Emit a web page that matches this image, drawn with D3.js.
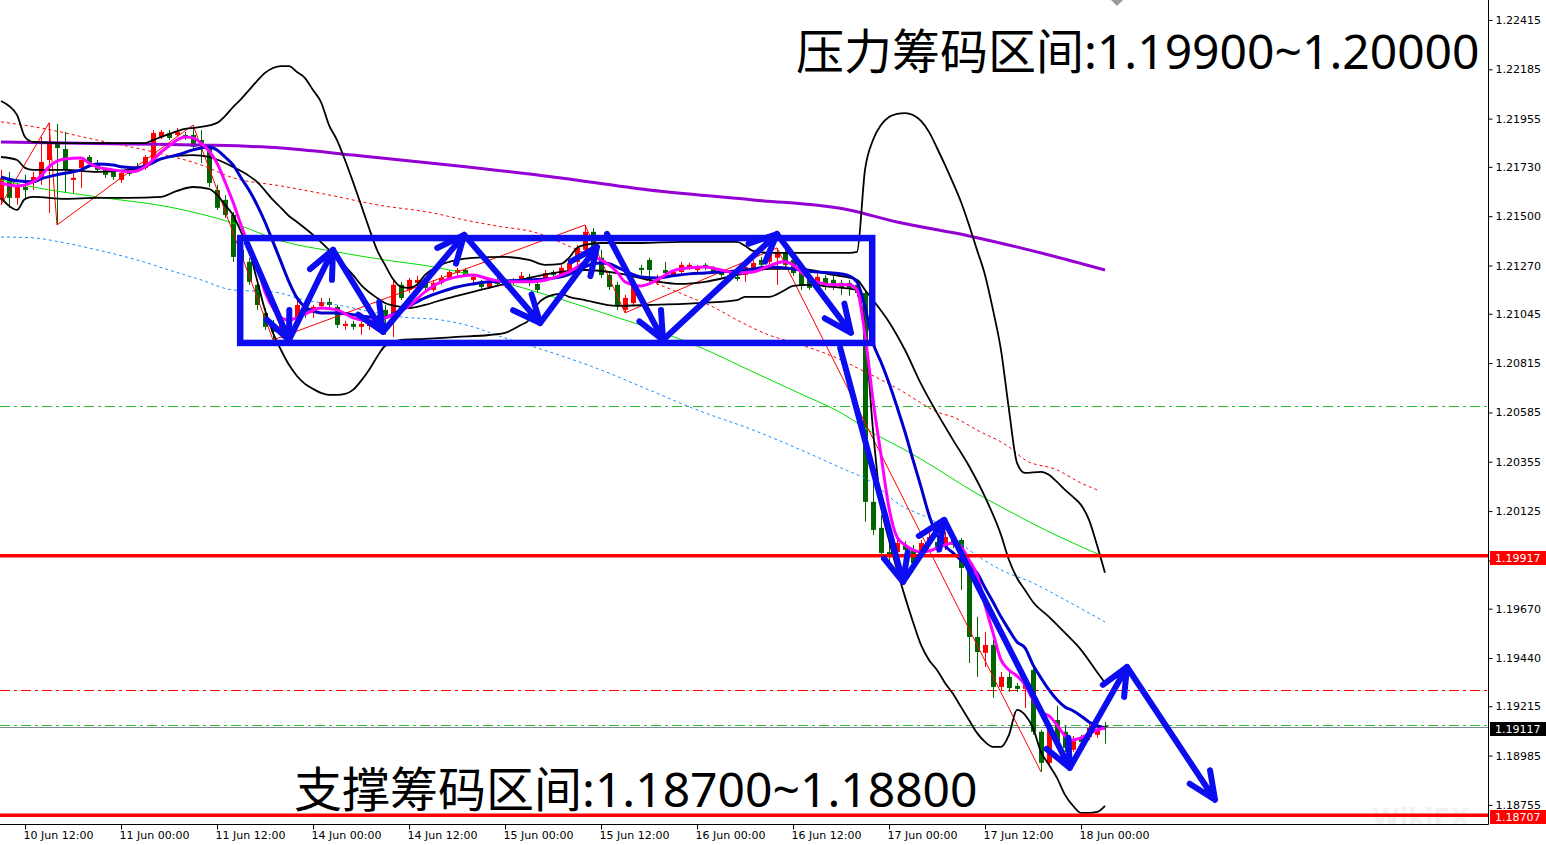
<!DOCTYPE html>
<html>
<head>
<meta charset="utf-8">
<script src="https://cdn.jsdelivr.net/npm/d3@7"></script>
<style>
  html, body { margin: 0; padding: 0; background: #fff; }
  svg { display: block; }
</style>
</head>
<body>
<svg id="chart" width="1546" height="845"></svg>
<script>
// ---- candles (H1), bar 0 = 10 Jun 09:00 ----
const opens = [1.21576,1.21669,1.21585,1.21636,1.21655,1.21679,1.21762,1.21841,1.21813,1.21669,1.21725,1.21776,1.21748,1.21716,1.21707,1.21669,1.21716,1.21734,1.21725,1.21762,1.21869,1.21888,1.21879,1.21879,1.21879,1.21855,1.21823,1.21622,1.21576,1.21506,1.21343,1.21287,1.21180,1.21049,1.20993,1.20970,1.21007,1.21016,1.21086,1.21049,1.21081,1.21100,1.21077,1.20988,1.20998,1.20984,1.20988,1.21007,1.21063,1.21026,1.21180,1.21156,1.21189,1.21198,1.21156,1.21189,1.21212,1.21235,1.21249,1.21203,1.21194,1.21170,1.21203,1.21175,1.21189,1.21198,1.21217,1.21184,1.21203,1.21240,1.21226,1.21249,1.21287,1.21343,1.21427,1.21306,1.21226,1.21180,1.21063,1.21095,1.21259,1.21296,1.21189,1.21249,1.21226,1.21240,1.21259,1.21249,1.21273,1.21259,1.21240,1.21226,1.21217,1.21226,1.21259,1.21296,1.21287,1.21306,1.21329,1.21296,1.21259,1.21212,1.21170,1.21212,1.21203,1.21189,1.21189,1.21180,1.21142,1.20168,1.20047,1.19934,1.19934,1.19967,1.19944,1.19930,1.19976,1.19981,1.19958,1.19990,1.19990,1.19860,1.19538,1.19464,1.19501,1.19305,1.19352,1.19310,1.19296,1.19384,1.19096,1.18951,1.19151,1.19096,1.19012,1.19068,1.19072,1.19082,1.19124];
const highs = [1.21716,1.21707,1.21655,1.21693,1.21707,1.21869,1.21935,1.21930,1.21893,1.21716,1.21762,1.21785,1.21762,1.21725,1.21716,1.21716,1.21725,1.21748,1.21785,1.21902,1.21902,1.21902,1.21911,1.21893,1.21925,1.21902,1.21832,1.21646,1.21599,1.21520,1.21366,1.21306,1.21203,1.21072,1.21016,1.21026,1.21053,1.21109,1.21095,1.21086,1.21119,1.21119,1.21086,1.21012,1.21012,1.21016,1.21012,1.21040,1.21086,1.21203,1.21194,1.21212,1.21222,1.21212,1.21203,1.21226,1.21249,1.21259,1.21259,1.21231,1.21203,1.21203,1.21212,1.21203,1.21212,1.21240,1.21231,1.21198,1.21249,1.21249,1.21273,1.21296,1.21366,1.21459,1.21445,1.21343,1.21240,1.21194,1.21133,1.21194,1.21273,1.21306,1.21226,1.21287,1.21249,1.21287,1.21282,1.21273,1.21282,1.21268,1.21249,1.21235,1.21231,1.21277,1.21296,1.21310,1.21343,1.21352,1.21343,1.21310,1.21273,1.21226,1.21231,1.21226,1.21222,1.21203,1.21203,1.21203,1.21156,1.20280,1.20107,1.19967,1.19990,1.19985,1.19967,1.19990,1.20023,1.19999,1.20028,1.20009,1.19999,1.19874,1.19632,1.19562,1.19524,1.19375,1.19375,1.19324,1.19347,1.19408,1.19105,1.19142,1.19217,1.19124,1.19077,1.19082,1.19133,1.19124,1.19142];
const lows = [1.21553,1.21539,1.21553,1.21576,1.21622,1.21646,1.21515,1.21459,1.21608,1.21608,1.21632,1.21739,1.21707,1.21679,1.21669,1.21655,1.21688,1.21711,1.21716,1.21753,1.21860,1.21855,1.21869,1.21855,1.21809,1.21748,1.21636,1.21529,1.21492,1.21287,1.21273,1.21180,1.21063,1.20970,1.20923,1.20932,1.20988,1.21002,1.21026,1.21026,1.21063,1.21072,1.20979,1.20970,1.20970,1.20947,1.20970,1.20993,1.20947,1.20937,1.21109,1.21142,1.21175,1.21156,1.21147,1.21180,1.21203,1.21226,1.21217,1.21189,1.21161,1.21161,1.21175,1.21166,1.21180,1.21189,1.21175,1.21142,1.21194,1.21217,1.21217,1.21240,1.21273,1.21320,1.21334,1.21212,1.21156,1.21063,1.21049,1.21086,1.21226,1.21194,1.21180,1.21212,1.21217,1.21231,1.21249,1.21240,1.21249,1.21231,1.21217,1.21207,1.21198,1.21194,1.21249,1.21259,1.21277,1.21180,1.21259,1.21222,1.21156,1.21156,1.21156,1.21156,1.21156,1.21133,1.21128,1.21124,1.20075,1.20014,1.19897,1.19888,1.19920,1.19930,1.19869,1.19916,1.19962,1.19930,1.19944,1.19953,1.19757,1.19417,1.19352,1.19398,1.19254,1.19291,1.19282,1.19282,1.19207,1.19082,1.18909,1.18942,1.19021,1.19002,1.19002,1.19035,1.19058,1.19068,1.19040];
const closes = [1.21679,1.21585,1.21636,1.21622,1.21683,1.21753,1.21846,1.21818,1.21716,1.21679,1.21762,1.21748,1.21716,1.21693,1.21683,1.21702,1.21697,1.21720,1.21776,1.21888,1.21893,1.21865,1.21893,1.21865,1.21823,1.21841,1.21655,1.21539,1.21506,1.21310,1.21287,1.21194,1.21086,1.20984,1.20961,1.21007,1.21040,1.21086,1.21053,1.21077,1.21100,1.21086,1.20993,1.20998,1.20984,1.20998,1.20998,1.21026,1.21035,1.21180,1.21119,1.21203,1.21203,1.21166,1.21189,1.21212,1.21240,1.21249,1.21226,1.21217,1.21170,1.21194,1.21184,1.21194,1.21198,1.21222,1.21189,1.21156,1.21235,1.21226,1.21259,1.21282,1.21352,1.21427,1.21352,1.21226,1.21170,1.21086,1.21119,1.21180,1.21249,1.21249,1.21212,1.21235,1.21240,1.21273,1.21273,1.21263,1.21259,1.21240,1.21226,1.21217,1.21207,1.21263,1.21282,1.21273,1.21329,1.21334,1.21273,1.21235,1.21180,1.21166,1.21217,1.21170,1.21170,1.21166,1.21166,1.21142,1.20168,1.20037,1.19930,1.19911,1.19976,1.19944,1.19883,1.19976,1.20004,1.19944,1.20004,1.19967,1.19860,1.19538,1.19468,1.19501,1.19305,1.19352,1.19300,1.19296,1.19338,1.19096,1.18951,1.19128,1.19044,1.19021,1.19058,1.19049,1.19114,1.19105,1.19117];

// ---- indicator lines, [bar, price] ----
const maSlow = [[0,1.21846],[12,1.21839],[25,1.21832],[35,1.21818],[44,1.21785],[56,1.21739],[69,1.21683],[81,1.21622],[94,1.21576],[106,1.21529],[112,1.21473],[121,1.21408],[131,1.21319],[138,1.21249]];
const maFast = [[0,1.21655],[2,1.21641],[4,1.21660],[5,1.21688],[6,1.21730],[7,1.21757],[8,1.21767],[10,1.21771],[11,1.21748],[12,1.21730],[14,1.21716],[16,1.21707],[17,1.21711],[18,1.21730],[19,1.21762],[20,1.21799],[21,1.21827],[22,1.21855],[23,1.21869],[24,1.21865],[25,1.21841],[26,1.21804],[27,1.21748],[28,1.21660],[29,1.21566],[30,1.21459],[31,1.21357],[32,1.21273],[33,1.21147],[34,1.21072],[35,1.21026],[36,1.21016],[38,1.21044],[40,1.21072],[42,1.21063],[44,1.21026],[46,1.21012],[47,1.21016],[49,1.21040],[51,1.21081],[53,1.21147],[55,1.21194],[57,1.21217],[59,1.21226],[61,1.21207],[63,1.21194],[66,1.21194],[69,1.21212],[71,1.21240],[73,1.21287],[74,1.21310],[75,1.21296],[76,1.21273],[77,1.21240],[78,1.21194],[80,1.21175],[81,1.21184],[82,1.21203],[84,1.21245],[86,1.21259],[88,1.21263],[90,1.21249],[92,1.21235],[94,1.21240],[96,1.21268],[97,1.21282],[98,1.21287],[99,1.21273],[100,1.21240],[101,1.21212],[102,1.21194],[104,1.21180],[106,1.21180],[107,1.21156],[108,1.20946],[109,1.20643],[110,1.20387],[111,1.20140],[112,1.20004],[113,1.19967],[114,1.19944],[115,1.19934],[116,1.19939],[117,1.19953],[118,1.19967],[119,1.19976],[120,1.19958],[121,1.19897],[122,1.19827],[123,1.19687],[124,1.19557],[125,1.19431],[126,1.19384],[127,1.19356],[128,1.19315],[129,1.19245],[130,1.19189],[131,1.19170],[132,1.19128],[133,1.19077],[134,1.19058],[135,1.19068],[136,1.19086],[137,1.19105],[138,1.19114]];
const maMid = [[0,1.21683],[2,1.21665],[4,1.21660],[5,1.21674],[7,1.21693],[9,1.21707],[10,1.21716],[11,1.21734],[12,1.21743],[14,1.21739],[15,1.21730],[17,1.21725],[18,1.21734],[20,1.21767],[22,1.21785],[24,1.21809],[25,1.21818],[26,1.21823],[27,1.21809],[28,1.21776],[29,1.21739],[30,1.21679],[31,1.21622],[32,1.21553],[33,1.21473],[34,1.21380],[35,1.21287],[36,1.21194],[37,1.21119],[38,1.21077],[39,1.21058],[40,1.21049],[42,1.21049],[44,1.21040],[46,1.21030],[48,1.21026],[49,1.21044],[51,1.21081],[53,1.21119],[55,1.21147],[57,1.21170],[59,1.21184],[61,1.21194],[63,1.21198],[66,1.21203],[68,1.21207],[70,1.21217],[72,1.21245],[74,1.21278],[75,1.21282],[76,1.21278],[77,1.21263],[78,1.21245],[80,1.21217],[82,1.21212],[84,1.21222],[86,1.21231],[88,1.21235],[90,1.21240],[92,1.21245],[94,1.21254],[96,1.21263],[98,1.21259],[100,1.21249],[102,1.21240],[104,1.21235],[106,1.21222],[107,1.21194],[108,1.21077],[109,1.20909],[110,1.20820],[111,1.20722],[112,1.20611],[113,1.20494],[114,1.20364],[115,1.20238],[116,1.20107],[117,1.20014],[118,1.19962],[119,1.19930],[120,1.19897],[121,1.19869],[122,1.19837],[123,1.19767],[124,1.19701],[125,1.19632],[126,1.19571],[127,1.19515],[128,1.19487],[129,1.19408],[130,1.19347],[131,1.19291],[132,1.19245],[133,1.19212],[134,1.19194],[135,1.19170],[136,1.19142],[137,1.19124],[138,1.19114]];
const bandUpper = [[0,1.22037],[1,1.22014],[2,1.21972],[3,1.21869],[4,1.21846],[8,1.21841],[12,1.21841],[16,1.21841],[18,1.21841],[19,1.21855],[21,1.21883],[23,1.21907],[25,1.21916],[27,1.21935],[28,1.21967],[29,1.22009],[30,1.22046],[31,1.22088],[32,1.22130],[33,1.22168],[34,1.22191],[35,1.22200],[36,1.22200],[37,1.22172],[38,1.22144],[39,1.22088],[40,1.22032],[41,1.21925],[42,1.21855],[43,1.21762],[44,1.21660],[45,1.21553],[46,1.21445],[47,1.21343],[48,1.21273],[49,1.21207],[50,1.21170],[51,1.21166],[52,1.21180],[53,1.21226],[55,1.21273],[57,1.21296],[59,1.21306],[63,1.21310],[66,1.21296],[68,1.21273],[70,1.21278],[71,1.21306],[72,1.21352],[73,1.21366],[75,1.21375],[80,1.21375],[85,1.21380],[92,1.21380],[93,1.21362],[94,1.21338],[96,1.21329],[100,1.21329],[104,1.21329],[106,1.21329],[107,1.21334],[108,1.21716],[109,1.21855],[110,1.21925],[111,1.21962],[112,1.21977],[113,1.21981],[114,1.21972],[115,1.21944],[116,1.21893],[117,1.21818],[118,1.21739],[119,1.21655],[120,1.21566],[121,1.21459],[122,1.21343],[123,1.21226],[124,1.21063],[125,1.20876],[126,1.20597],[127,1.20350],[128,1.20303],[130,1.20308],[131,1.20294],[132,1.20261],[133,1.20224],[134,1.20191],[135,1.20154],[136,1.20084],[137,1.19967],[138,1.19837]];
const bandMiddle = [[0,1.21776],[2,1.21762],[3,1.21725],[4,1.21716],[8,1.21716],[12,1.21707],[16,1.21716],[18,1.21730],[20,1.21767],[22,1.21781],[24,1.21785],[26,1.21776],[28,1.21748],[29,1.21730],[31,1.21688],[32,1.21660],[34,1.21576],[35,1.21539],[36,1.21501],[37,1.21473],[39,1.21413],[41,1.21343],[42,1.21306],[44,1.21226],[45,1.21180],[47,1.21119],[48,1.21095],[50,1.21077],[51,1.21072],[53,1.21086],[55,1.21109],[57,1.21128],[59,1.21147],[61,1.21166],[63,1.21184],[66,1.21212],[70,1.21240],[73,1.21249],[77,1.21235],[81,1.21203],[85,1.21184],[88,1.21194],[92,1.21226],[96,1.21254],[100,1.21254],[104,1.21226],[107,1.21203],[108,1.21156],[109,1.21109],[111,1.21007],[113,1.20876],[115,1.20718],[117,1.20583],[119,1.20457],[121,1.20335],[123,1.20191],[125,1.20014],[126,1.19897],[127,1.19813],[128,1.19757],[129,1.19701],[131,1.19632],[133,1.19557],[135,1.19478],[137,1.19375],[138,1.19324]];
const bandLower = [[0,1.21585],[1,1.21548],[2,1.21529],[3,1.21581],[4,1.21590],[8,1.21581],[12,1.21585],[16,1.21585],[20,1.21590],[22,1.21618],[24,1.21636],[26,1.21627],[27,1.21599],[28,1.21553],[29,1.21506],[30,1.21427],[31,1.21343],[32,1.21203],[33,1.21063],[34,1.20956],[35,1.20876],[36,1.20807],[37,1.20755],[38,1.20718],[39,1.20695],[40,1.20676],[41,1.20667],[42,1.20667],[43,1.20671],[44,1.20690],[45,1.20732],[46,1.20783],[47,1.20844],[48,1.20895],[49,1.20909],[50,1.20923],[53,1.20928],[57,1.20937],[61,1.20946],[63,1.20956],[65,1.20993],[66,1.21016],[67,1.21086],[68,1.21119],[70,1.21138],[71,1.21124],[73,1.21109],[77,1.21082],[81,1.21086],[87,1.21095],[92,1.21109],[93,1.21124],[96,1.21124],[98,1.21156],[99,1.21175],[101,1.21180],[104,1.21170],[107,1.21156],[108,1.20970],[109,1.20503],[110,1.20154],[111,1.19990],[112,1.19851],[113,1.19725],[114,1.19608],[115,1.19501],[116,1.19431],[117,1.19384],[118,1.19324],[119,1.19273],[120,1.19212],[121,1.19151],[122,1.19091],[123,1.19049],[124,1.19026],[125,1.19026],[126,1.19082],[127,1.19198],[128,1.19175],[129,1.19114],[130,1.19002],[131,1.18942],[132,1.18881],[133,1.18802],[134,1.18751],[135,1.18718],[136,1.18718],[137,1.18722],[138,1.18751]];
const maGreen = [[0,1.21669],[4,1.21636],[12,1.21590],[21,1.21543],[29,1.21468],[35,1.21385],[42,1.21333],[48,1.21296],[54,1.21264],[59,1.21226],[63,1.21189],[69,1.21124],[76,1.21040],[81,1.20979],[87,1.20895],[94,1.20774],[100,1.20671],[105,1.20583],[109,1.20489],[113,1.20410],[117,1.20322],[121,1.20228],[126,1.20125],[130,1.20047],[134,1.19976],[138,1.19911]];
const maSkyDot = [[0,1.21403],[4,1.21399],[8,1.21375],[12,1.21343],[17,1.21296],[21,1.21249],[25,1.21203],[29,1.21156],[34,1.21147],[38,1.21109],[42,1.21086],[50,1.21030],[55,1.21016],[59,1.20984],[63,1.20932],[67,1.20886],[75,1.20783],[81,1.20690],[87,1.20597],[94,1.20503],[100,1.20410],[105,1.20326],[109,1.20256],[112,1.20163],[117,1.20070],[121,1.19944],[125,1.19851],[129,1.19790],[133,1.19711],[138,1.19608]];
const maRedDot = [[0,1.21940],[5,1.21911],[12,1.21855],[19,1.21800],[25,1.21739],[29,1.21679],[35,1.21641],[41,1.21599],[47,1.21553],[54,1.21515],[58,1.21482],[62,1.21454],[67,1.21422],[72,1.21343],[79,1.21226],[83,1.21170],[86,1.21124],[89,1.21077],[92,1.21016],[96,1.20946],[100,1.20900],[105,1.20830],[107,1.20793],[110,1.20737],[113,1.20676],[115,1.20629],[117,1.20587],[119,1.20564],[122,1.20503],[126,1.20424],[128,1.20364],[132,1.20317],[135,1.20256],[137,1.20224]];
const zigzag = [[0,1.21553],[6,1.21935],[7,1.21459],[24,1.21925],[34,1.20923],[73,1.21459],[78,1.21049],[97,1.21352],[130,1.18909]];

// ---- levels and drawn objects ----
const keyLevels = [1.19917, 1.18707];
const greenLevels = [1.20615, 1.19128];
const redLevels = [1.19291];
const bidPrice = 1.19117;
const priceTags = [1.19917, 1.19117, 1.18707];
const boxBars = [29.9, 108.9];
const boxPrices = [1.21398, 1.20909];
const arrowRuns = [
  [[30.75,1.21375],[36,1.20923],[41.5,1.21343],[47.75,1.20961],[57.9,1.21413],[67.4,1.21002],[74.5,1.21357]],
  [[75.75,1.21417],[82.75,1.20923],[97,1.21417],[106.25,1.20956]],
  [[104.9,1.20886],[112.75,1.19795],[117.9,1.20084],[133.6,1.18928],[140.75,1.19398],[151.75,1.18779]]
];
const noteTop = ['压力筹码区间', ':1.19900~1.20000'];
const noteBottom = ['支撑筹码区间', ':1.18700~1.18800'];

// ---- axes ----
const priceTicks = [1.22415,1.22185,1.21955,1.21730,1.21500,1.21270,1.21045,1.20815,1.20585,1.20355,1.20125,1.19895,1.19670,1.19440,1.19215,1.18985,1.18755];
const timeTickBars = [3,15,27,39,51,63,75,87,99,111,123,135];
const timeTickLabels = ['10 Jun 12:00','11 Jun 00:00','11 Jun 12:00','14 Jun 00:00','14 Jun 12:00','15 Jun 00:00','15 Jun 12:00','16 Jun 00:00','16 Jun 12:00','17 Jun 00:00','17 Jun 12:00','18 Jun 00:00'];

const plotW = 1488;
const plotH = 824;

const x = d3.scaleLinear().domain([0, 139]).range([1, 1113]);
const y = d3.scaleLinear().domain([1.18666, 1.22508]).range([plotH, 0]);
const crisp = v => Math.round(v) + 0.5;

const svg = d3.select('#chart');
svg.append('rect').attr('width', 1546).attr('height', 845).attr('fill', '#fff');
svg.append('defs').append('clipPath').attr('id', 'plot-clip')
  .append('rect').attr('x', 0).attr('y', 0).attr('width', plotW).attr('height', plotH);

const plot = svg.append('g').attr('clip-path', 'url(#plot-clip)');

// faint watermark
plot.append('text')
  .attr('x', 1372).attr('y', 826)
  .attr('font-family', "'DejaVu Sans', sans-serif")
  .attr('font-size', 25).attr('font-weight', 'bold')
  .attr('fill', '#f1f1f1')
  .text('WikiFX');

// dash-dot horizontal levels
plot.selectAll('.lvl-green').data(greenLevels).enter().append('line')
  .attr('x1', 0).attr('x2', plotW)
  .attr('y1', d => crisp(y(d))).attr('y2', d => crisp(y(d)))
  .attr('stroke', '#2dbb2d').attr('stroke-width', 1)
  .attr('stroke-dasharray', '10,4,3,4');
plot.selectAll('.lvl-red').data(redLevels).enter().append('line')
  .attr('x1', 0).attr('x2', plotW)
  .attr('y1', d => crisp(y(d))).attr('y2', d => crisp(y(d)))
  .attr('stroke', '#ff0000').attr('stroke-width', 1)
  .attr('stroke-dasharray', '10,4,3,4');
plot.append('line')
  .attr('x1', 0).attr('x2', plotW)
  .attr('y1', crisp(y(bidPrice))).attr('y2', crisp(y(bidPrice)))
  .attr('stroke', '#7d8994').attr('stroke-width', 1);

// candles
const candles = opens.map((o, i) => ({ i, o, h: highs[i], l: lows[i], c: closes[i] }));
const candleColor = d => d.c >= d.o ? '#ff0000' : '#006400';

plot.selectAll('.wick').data(candles).enter().append('line')
  .attr('class', 'wick')
  .attr('x1', d => x(d.i) + 0.5).attr('x2', d => x(d.i) + 0.5)
  .attr('y1', d => y(d.h)).attr('y2', d => y(d.l))
  .attr('stroke', candleColor).attr('stroke-width', 1);

plot.selectAll('.body').data(candles).enter().append('rect')
  .attr('class', 'body')
  .attr('x', d => x(d.i) - 2)
  .attr('y', d => y(Math.max(d.o, d.c)))
  .attr('width', 5)
  .attr('height', d => Math.max(1, Math.abs(y(d.o) - y(d.c))))
  .attr('fill', candleColor);

// indicator lines
const smooth = d3.line().x(d => x(d[0])).y(d => y(d[1])).curve(d3.curveMonotoneX);
const straight = d3.line().x(d => x(d[0])).y(d => y(d[1]));

const drawLine = (data, color, width, dash, gen) => {
  plot.append('path')
    .attr('d', (gen || smooth)(data))
    .attr('fill', 'none')
    .attr('stroke', color)
    .attr('stroke-width', width)
    .attr('stroke-dasharray', dash || null)
    .attr('stroke-linejoin', 'round');
};

drawLine(maSkyDot, '#1e90ff', 1, '3,3');
drawLine(maRedDot, '#ff0000', 1, '3,3');
drawLine(maGreen, '#00e000', 1);
drawLine(zigzag, '#ff0000', 1, null, straight);
drawLine(maSlow, '#9400d3', 3);
drawLine(bandUpper, '#000', 1.8);
drawLine(bandMiddle, '#000', 1.8);
drawLine(bandLower, '#000', 1.8);
drawLine(maMid, '#0000cd', 3);
drawLine(maFast, '#ff00ff', 3);

// key levels
plot.selectAll('.key-level').data(keyLevels).enter().append('line')
  .attr('x1', 0).attr('x2', plotW)
  .attr('y1', d => y(d)).attr('y2', d => y(d))
  .attr('stroke', '#ff0000').attr('stroke-width', 3.5);

// box + arrows
const blue = '#0c0cf0';
plot.append('rect')
  .attr('x', x(boxBars[0]))
  .attr('y', y(boxPrices[0]))
  .attr('width', x(boxBars[1]) - x(boxBars[0]))
  .attr('height', y(boxPrices[1]) - y(boxPrices[0]))
  .attr('fill', 'none')
  .attr('stroke', blue)
  .attr('stroke-width', 6.5);

const arrowLayer = svg.append('g');
arrowRuns.forEach(run => {
  const pts = run.map(p => [x(p[0]), y(p[1])]);
  for (let k = 1; k < pts.length; k++) {
    const [x0, y0] = pts[k - 1];
    const [x1, y1] = pts[k];
    const ang = Math.atan2(y1 - y0, x1 - x0);
    const len = 30, spread = 0.42;
    const b1 = [x1 - len * Math.cos(ang - spread), y1 - len * Math.sin(ang - spread)];
    const b2 = [x1 - len * Math.cos(ang + spread), y1 - len * Math.sin(ang + spread)];
    arrowLayer.append('path')
      .attr('d', `M${x0},${y0}L${x1},${y1}M${b1[0]},${b1[1]}L${x1},${y1}L${b2[0]},${b2[1]}`)
      .attr('fill', 'none')
      .attr('stroke', blue)
      .attr('stroke-width', 6)
      .attr('stroke-linecap', 'round')
      .attr('stroke-linejoin', 'round');
  }
});

// annotation texts
const note = (parts, px, py) => {
  const t = svg.append('text')
    .attr('x', px).attr('y', py)
    .attr('font-family', "'Noto Sans', 'Noto Sans CJK SC', sans-serif")
    .attr('font-size', 48)
    .attr('fill', '#000');
  t.append('tspan').attr('font-family', "'Noto Sans CJK SC', sans-serif").text(parts[0]);
  t.append('tspan').text(parts[1]);
};
note(noteTop, 796, 69);
note(noteBottom, 294, 807);

// frame
svg.append('line').attr('x1', crisp(plotW)).attr('x2', crisp(plotW)).attr('y1', 0).attr('y2', crisp(plotH))
  .attr('stroke', '#000').attr('stroke-width', 1);
svg.append('line').attr('x1', 0).attr('x2', crisp(plotW)).attr('y1', crisp(plotH)).attr('y2', crisp(plotH))
  .attr('stroke', '#000').attr('stroke-width', 1);

// shift marker
svg.append('path').attr('d', 'M1111,0L1123,0L1117,6Z').attr('fill', '#999');

// price axis
const yAxis = svg.append('g')
  .attr('transform', `translate(${crisp(plotW)},0)`)
  .call(d3.axisRight(y).tickValues(priceTicks).tickFormat(d3.format('.5f')).tickSize(4).tickSizeOuter(0).tickPadding(3));
yAxis.select('.domain').remove();
yAxis.selectAll('text').attr('font-family', "'DejaVu Sans', sans-serif").attr('font-size', 11).attr('fill', '#000');
yAxis.selectAll('line').attr('stroke', '#000');

// time axis
const xAxis = svg.append('g')
  .attr('transform', `translate(0,${crisp(plotH)})`)
  .call(d3.axisBottom(x).tickValues(timeTickBars).tickFormat((d, i) => timeTickLabels[i]).tickSize(5).tickSizeOuter(0).tickPadding(2));
xAxis.select('.domain').remove();
xAxis.selectAll('text').attr('text-anchor', 'start').attr('dx', -2)
  .attr('font-family', "'DejaVu Sans', sans-serif").attr('font-size', 11).attr('fill', '#000');
xAxis.selectAll('line').attr('stroke', '#000');

// price tags on the axis
const tagFill = ['#ff0000', '#000000', '#ff0000'];
const tags = svg.selectAll('.tag').data(priceTags).enter().append('g')
  .attr('transform', d => `translate(${plotW + 2},${Math.round(y(d))})`);
tags.append('rect')
  .attr('x', 0).attr('y', -5).attr('width', 56).attr('height', 14)
  .attr('fill', (d, i) => tagFill[i]);
tags.append('text')
  .attr('x', 5).attr('y', 2).attr('dy', '0.35em')
  .attr('font-family', "'DejaVu Sans', sans-serif").attr('font-size', 11)
  .attr('fill', '#fff')
  .text(d => d3.format('.5f')(d));
</script>
</body>
</html>
